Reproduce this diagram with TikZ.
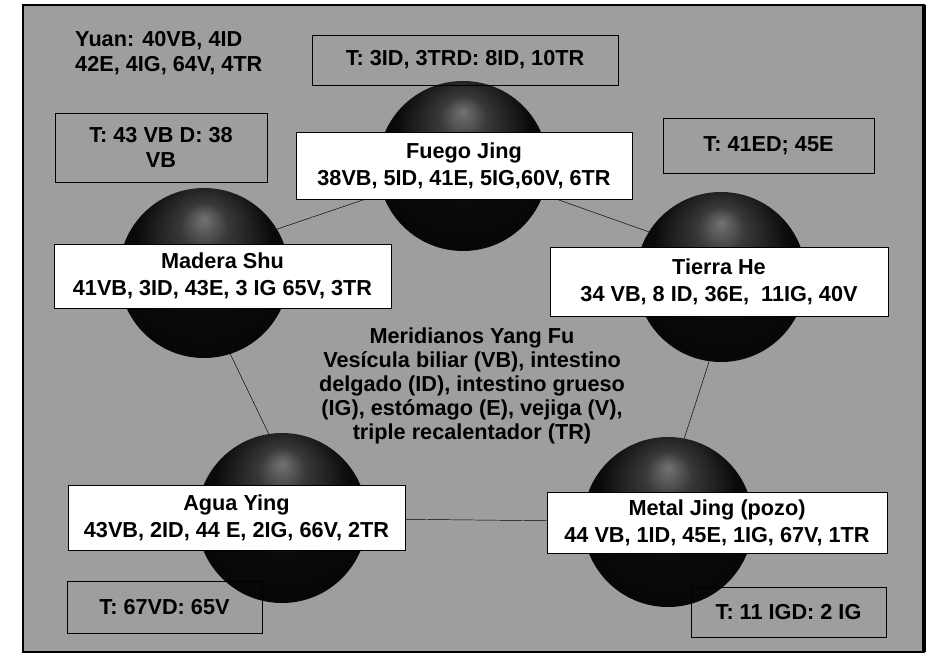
\documentclass[tikz,border=0pt]{standalone}
\usepackage{fontspec}
\setmainfont{Liberation Sans}
\usepackage{xcolor}
\definecolor{fondo}{gray}{0.62}
\pgfdeclareradialshading{esfera}{\pgfpoint{0bp}{16bp}}{color(0bp)=(black!55); color(7bp)=(black!78); color(20bp)=(black!96); color(50bp)=(black)}

\begin{document}
\begin{tikzpicture}[x=0.03cm,y=-0.03cm,
		bola/.style={circle,shading=esfera,minimum size=5.1cm,inner sep=0pt},
		caja/.style={draw,fill=white,minimum width=10.1cm,minimum height=1.95cm,inner sep=0pt,align=center,font=\fontsize{18.5}{23}\selectfont\bfseries},
		nota/.style={draw,minimum height=1.5cm,inner sep=0pt,align=center,font=\fontsize{18.5}{21.3}\selectfont\bfseries}]
		\useasboundingbox (0,0) rectangle (934,656);
		\fill[fondo] (23,5) rectangle (924,652);
		\draw[line width=1.6pt] (23,5) rectangle (924,652);
		\draw[line width=3pt] (924,5)--(924,652);
		% las cinco esferas
		\node[bola] (fuego) at (463,166) {};
		\node[bola] (madera) at (204,273) {};
		\node[bola] (tierra) at (721,277) {};
		\node[bola] (agua) at (282,518) {};
		\node[bola] (metal) at (668,522) {};
		\draw (madera.31)--(fuego);
		\draw (fuego)--(tierra.148);
		\draw (tierra.-98)--(metal.79);
		\draw (metal)--(agua);
		\draw (agua.99)--(madera.-72);
		% recuadros blancos
		\node[caja,minimum width=10.08cm,minimum height=2.01cm] (cfuego) at (464,165.5) {Fuego Jing\\38VB, 5ID, 41E, 5IG,60V, 6TR};
		\node[caja,minimum height=1.92cm] (cmadera) at (222.5,276) {Madera Shu\\41VB, 3ID, 43E, 3 IG 65V, 3TR};
		\node[caja,minimum width=10.14cm,minimum height=2.07cm] (ctierra) at (719,281.5) {Tierra He\\34 VB, 8 ID, 36E,\ \ 11IG, 40V};
		\node[caja] (cagua) at (236.5,517.5) {Agua Ying\\43VB, 2ID, 44 E, 2IG, 66V, 2TR};
		\node[caja,minimum width=10.2cm,minimum height=1.83cm] (cmetal) at (717,522.5) {Metal Jing (pozo)\\44 VB, 1ID, 45E, 1IG, 67V, 1TR};
		% recuadros grises
		\node[nota,minimum width=9.18cm] (tfuego) at (465,60) {T: 3ID, 3TRD: 8ID, 10TR};
		\node[nota,minimum width=6.36cm,minimum height=2.07cm] (tmadera) at (161,147.5) {T: 43 VB D: 38\\VB};
		\node[nota,minimum width=6.33cm,minimum height=1.65cm] (ttierra) at (768.5,145.5) {T: 41ED; 45E};
		\node[nota,minimum width=5.85cm,minimum height=1.56cm] (tagua) at (164.5,607) {T: 67VD: 65V};
		\node[nota,minimum width=5.85cm] (tmetal) at (788.5,612) {T: 11 IGD: 2 IG};
		\node[anchor=north west,inner sep=0pt,align=left,font=\fontsize{18.5}{21.3}\selectfont\bfseries] (yuan) at (75,31) {Yuan: 40VB, 4ID\\42E, 4IG, 64V, 4TR};
		\node[inner sep=0pt,align=center,font=\fontsize{18.5}{20.5}\selectfont\bfseries] (meridianos) at (472,386) {Meridianos Yang Fu\\Vesícula biliar (VB), intestino\\delgado (ID), intestino grueso\\(IG), estómago (E), vejiga (V),\\triple recalentador (TR)};
	\end{tikzpicture}
\end{document}
